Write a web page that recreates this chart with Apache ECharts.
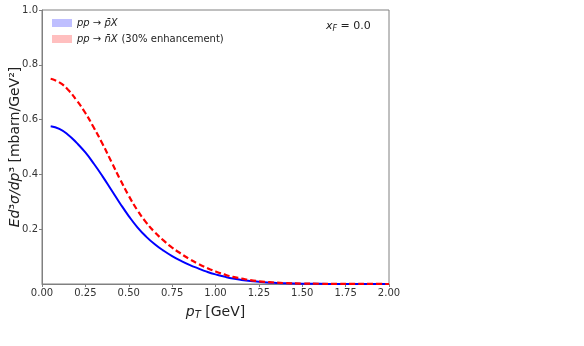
<!DOCTYPE html>
<html>
<head>
<meta charset="UTF-8">
<title>pT spectrum</title>
<script src="https://cdn.jsdelivr.net/npm/echarts@6/dist/echarts.min.js"></script>
<style>
  body { margin: 0; padding: 0; background: #fff; }
  #chart { width: 584px; height: 346px; }
</style>
</head>
<body>
<div id="chart"></div>
<script>
// pT grid (GeV)
var pT = [0.05, 0.10, 0.15, 0.20, 0.25, 0.30, 0.35, 0.40, 0.45, 0.50,
          0.55, 0.60, 0.65, 0.70, 0.75, 0.80, 0.85, 0.90, 0.95, 1.00,
          1.05, 1.10, 1.15, 1.20, 1.25, 1.30, 1.35, 1.40, 1.50, 1.60,
          1.70, 1.80, 1.90, 2.00];
// pp -> pbar X
var antiproton = [0.576, 0.566, 0.545, 0.515, 0.480, 0.438, 0.392, 0.343, 0.294, 0.248,
                  0.207, 0.173, 0.145, 0.122, 0.102, 0.085, 0.070, 0.057, 0.045, 0.035,
                  0.027, 0.020, 0.015, 0.011, 0.008, 0.0055, 0.0038, 0.0026, 0.0012, 0.0006,
                  0.0003, 0.00015, 0.0001, 0.00005];
// pp -> nbar X (30% enhancement)
var antineutron = [0.749, 0.736, 0.709, 0.670, 0.624, 0.569, 0.510, 0.446, 0.382, 0.322,
                   0.269, 0.225, 0.189, 0.159, 0.133, 0.111, 0.091, 0.074, 0.059, 0.046,
                   0.035, 0.026, 0.020, 0.014, 0.010, 0.0072, 0.0049, 0.0034, 0.0016, 0.0008,
                   0.0004, 0.0002, 0.00013, 0.00007];
var xTicks = [0, 0.25, 0.5, 0.75, 1.0, 1.25, 1.5, 1.75, 2.0];
var yTicks = [0.2, 0.4, 0.6, 0.8, 1.0];

var nameP = 'pp → p̄X';
var nameN = 'pp → n̄X (30% enhancement)';

function pairs(xs, ys) {
  return xs.map(function (x, i) { return [x, ys[i]]; });
}

var chart = echarts.init(document.getElementById('chart'));
var axisColor = '#808080';
var font = 'DejaVu Sans';

chart.setOption({
  animation: false,
  textStyle: { fontFamily: font },
  grid: {
    left: 42, right: 195, top: 10, bottom: 62,
    containLabel: false, outerBoundsMode: 'none',
    show: true, borderColor: axisColor, borderWidth: 1
  },
  legend: {
    orient: 'vertical',
    left: 52, top: 18, padding: 0,
    itemWidth: 20, itemHeight: 8, itemGap: 5,
    data: [
      { name: nameP, itemStyle: { color: 'rgba(0,0,255,0.25)' }, icon: 'rect' },
      { name: nameN, itemStyle: { color: 'rgba(255,0,0,0.25)' }, icon: 'rect' }
    ],
    formatter: function (name) {
      if (name === nameP) return '{i|pp → p̄X}';
      return '{i|pp → n̄X} {n|(30% enhancement)}';
    },
    textStyle: {
      rich: {
        i: { fontStyle: 'italic', fontSize: 10, color: '#222', fontFamily: font },
        n: { fontSize: 10, color: '#222', fontFamily: font }
      }
    }
  },
  graphic: [{
    type: 'text', left: 326, top: 21,
    style: {
      text: '{i|x}{s|F}{n| = 0.0}',
      rich: {
        i: { fontStyle: 'italic', fontSize: 11, fill: '#222', fontFamily: font },
        s: { fontStyle: 'italic', fontSize: 8, fill: '#222', fontFamily: font, padding: [5, 0, 0, 0] },
        n: { fontSize: 11, fill: '#222', fontFamily: font }
      }
    }
  }],
  xAxis: {
    type: 'value', min: 0, max: 2, interval: 0.25,
    name: '{i|p}{s|T}{n| [GeV]}', nameLocation: 'middle', nameGap: 20,
    nameMoveOverlap: false,
    nameTextStyle: {
      rich: {
        i: { fontStyle: 'italic', fontSize: 14, color: '#222', fontFamily: font },
        s: { fontStyle: 'italic', fontSize: 10, color: '#222', fontFamily: font, padding: [6, 0, 0, 0] },
        n: { fontSize: 14, color: '#222', fontFamily: font }
      }
    },
    axisLine: { show: true, lineStyle: { color: axisColor } },
    axisTick: { show: true, length: 3, lineStyle: { color: axisColor } },
    axisLabel: {
      fontSize: 10, color: '#333', margin: 4,
      formatter: function (v) { return xTicks.indexOf(v) >= 0 ? v.toFixed(2) : ''; }
    },
    splitLine: { show: false }
  },
  yAxis: {
    type: 'value', min: 0, max: 1, interval: 0.2,
    name: '{i|Ed}{n|³}{i|σ/dp}{n|³ [mbarn/GeV²]}', nameLocation: 'middle', nameGap: 20,
    nameMoveOverlap: false,
    nameTextStyle: {
      rich: {
        i: { fontStyle: 'italic', fontSize: 14, color: '#222', fontFamily: font },
        n: { fontSize: 14, color: '#222', fontFamily: font }
      }
    },
    axisLine: { show: true, lineStyle: { color: axisColor } },
    axisTick: {
      show: true, length: 3, lineStyle: { color: axisColor },
      customValues: yTicks
    },
    axisLabel: {
      fontSize: 10, color: '#333', margin: 4,
      customValues: yTicks,
      formatter: function (v) { return v.toFixed(1); }
    },
    splitLine: { show: false }
  },
  series: [
    {
      name: nameP, type: 'line', smooth: true, showSymbol: false,
      data: pairs(pT, antiproton),
      lineStyle: { color: '#0000ff', width: 2 },
      itemStyle: { color: '#0000ff' }, z: 2
    },
    {
      name: nameN, type: 'line', smooth: true, showSymbol: false,
      data: pairs(pT, antineutron),
      lineStyle: { color: '#ff0000', width: 2.2, type: [6, 3] },
      itemStyle: { color: '#ff0000' }, z: 3
    }
  ]
});

window.addEventListener('resize', function () { chart.resize(); });
</script>
</body>
</html>
